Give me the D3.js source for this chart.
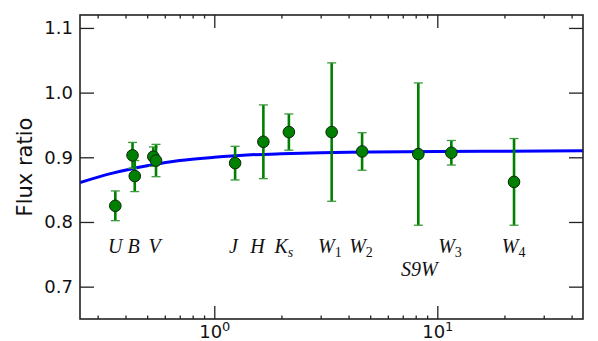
<html>
    <head>
        <script src="https://d3js.org/d3.v7.min.js"></script>
    </head>
    <body style="margin:0">
        <svg id="graph" width="598" height="341"></svg>
        <script>
            // data
            const wavelengths = [0.36, 0.43, 0.44, 0.533, 0.548, 1.24, 1.66, 2.16, 3.36, 4.6, 8.22, 11.56, 22.08];
            const ratios      = [0.825, 0.903, 0.871, 0.901, 0.895, 0.891, 0.924, 0.939, 0.939, 0.909, 0.905, 0.907, 0.862];
            const errors      = [0.023, 0.020, 0.024, 0.015, 0.025, 0.026, 0.057, 0.028, 0.107, 0.029, 0.110, 0.019, 0.067];

            const modelX = [0.25, 0.35, 0.5, 0.7, 1.0, 1.4, 2.0, 3.0, 5.0, 10, 20, 45];
            const modelY = [0.861, 0.8755, 0.887, 0.895, 0.900, 0.9035, 0.9055, 0.907, 0.908, 0.909, 0.9095, 0.910];

            // band labels: name, subscript, x (micron), y (ratio)
            const bandNames = ["U", "B", "V", "J", "H", "K", "W", "W", "S9W", "W", "W"];
            const bandSubs  = ["", "", "", "", "", "s", "1", "2", "", "3", "4"];
            const bandX     = [0.36, 0.435, 0.54, 1.22, 1.56, 2.05, 3.3, 4.55, 8.3, 11.4, 22.0];
            const bandY     = [0.752, 0.752, 0.752, 0.752, 0.752, 0.752, 0.752, 0.752, 0.717, 0.752, 0.752];

            const yTicks = [0.7, 0.8, 0.9, 1.0, 1.1];
            const xTicks = [1, 10];
            const xMinor = [0.3, 0.4, 0.5, 0.6, 0.7, 0.8, 0.9, 2, 3, 4, 5, 6, 7, 8, 9, 20, 30, 40];

            const canvas = d3.select("svg#graph");
            const margin = {top: 15, right: 15, bottom: 22, left: 80};
            const chartWidth = 598 - margin.left - margin.right;
            const chartHeight = 341 - margin.top - margin.bottom;

            const xScale = d3.scaleLog().domain([0.25, 45]).range([0, chartWidth]);
            const yScale = d3.scaleLinear().domain([0.65, 1.12]).range([chartHeight, 0]);

            const chartArea = canvas.append("g")
                .attr("transform", `translate(${margin.left},${margin.top})`);

            chartArea.append("clipPath").attr("id", "clip")
                .append("rect").attr("width", chartWidth).attr("height", chartHeight);

            const plot = chartArea.append("g").attr("clip-path", "url(#clip)");

            // model curve
            const lineGen = d3.line()
                .x((d, i) => xScale(modelX[i]))
                .y(d => yScale(d))
                .curve(d3.curveMonotoneX);
            plot.append("path")
                .datum(modelY)
                .attr("fill", "none")
                .attr("stroke", "#0000ff")
                .attr("stroke-width", 3)
                .attr("d", lineGen);

            // error bars
            const bars = plot.selectAll("g.bar")
                .data(ratios)
                .join("g")
                .attr("class", "bar")
                .attr("transform", (d, i) => `translate(${xScale(wavelengths[i])},0)`);
            bars.append("line")
                .attr("y1", (d, i) => yScale(d - errors[i]))
                .attr("y2", (d, i) => yScale(d + errors[i]))
                .attr("stroke", "#008000")
                .attr("stroke-width", 2.6);
            [-1, 1].forEach(s => {
                bars.append("line")
                    .attr("x1", -4.5).attr("x2", 4.5)
                    .attr("y1", (d, i) => yScale(d + s * errors[i]))
                    .attr("y2", (d, i) => yScale(d + s * errors[i]))
                    .attr("stroke", "#3a9a3a")
                    .attr("stroke-width", 1.3);
            });

            // points
            plot.selectAll("circle.pt")
                .data(ratios)
                .join("circle")
                .attr("class", "pt")
                .attr("cx", (d, i) => xScale(wavelengths[i]))
                .attr("cy", d => yScale(d))
                .attr("r", 5.8)
                .attr("fill", "#008000")
                .attr("stroke", "#0a260a")
                .attr("stroke-width", 1);

            // band labels
            const labels = chartArea.selectAll("text.band")
                .data(bandNames)
                .join("text")
                .attr("class", "band")
                .attr("x", (d, i) => xScale(bandX[i]))
                .attr("y", (d, i) => yScale(bandY[i]))
                .attr("text-anchor", "middle")
                .attr("font-family", "Liberation Serif")
                .attr("font-style", "italic")
                .attr("font-size", 20)
                .attr("fill", "#111");
            labels.append("tspan").text(d => d);
            labels.append("tspan")
                .attr("font-size", 14)
                .attr("font-style", (d, i) => bandSubs[i] === "s" ? "italic" : "normal")
                .attr("dy", 4)
                .text((d, i) => bandSubs[i]);

            // axes
            const tickStyle = g => {
                g.selectAll(".domain").remove();
                g.selectAll("line").attr("stroke", "#222").attr("stroke-width", 1.3);
                g.selectAll("text").attr("font-family", "DejaVu Sans").attr("font-size", 18).attr("fill", "#111");
            };

            chartArea.append("g")
                .call(d3.axisLeft(yScale).tickValues(yTicks).tickSize(-14).tickPadding(7).tickFormat(d3.format(".1f")))
                .call(tickStyle);
            chartArea.append("g")
                .attr("transform", `translate(${chartWidth},0)`)
                .call(d3.axisRight(yScale).tickValues(yTicks).tickSize(-14).tickFormat(""))
                .call(tickStyle);

            chartArea.append("g")
                .attr("transform", `translate(0,${chartHeight})`)
                .call(d3.axisBottom(xScale).tickValues(xTicks).tickSize(-13).tickFormat(""))
                .call(tickStyle)
                .selectAll(".tick")
                .append("text")
                .attr("y", 19)
                .attr("text-anchor", "middle")
                .attr("font-family", "DejaVu Sans")
                .attr("font-size", 18)
                .attr("fill", "#111")
                .each(function(d) {
                    const t = d3.select(this);
                    t.append("tspan").text("10");
                    t.append("tspan").attr("font-size", 13).attr("dy", -7).text(Math.round(Math.log10(d)));
                });
            chartArea.append("g")
                .attr("transform", `translate(0,${chartHeight})`)
                .call(d3.axisBottom(xScale).tickValues(xMinor).tickSize(-3.5).tickFormat(""))
                .call(tickStyle);
            chartArea.append("g")
                .call(d3.axisTop(xScale).tickValues(xTicks).tickSize(-13).tickFormat(""))
                .call(tickStyle);
            chartArea.append("g")
                .call(d3.axisTop(xScale).tickValues(xMinor).tickSize(-3.5).tickFormat(""))
                .call(tickStyle);

            // frame
            chartArea.append("rect")
                .attr("width", chartWidth)
                .attr("height", chartHeight)
                .attr("fill", "none")
                .attr("stroke", "#222")
                .attr("stroke-width", 1.6);

            // y label
            canvas.append("text")
                .attr("transform", `translate(32,167) rotate(-90)`)
                .attr("text-anchor", "middle")
                .attr("font-family", "DejaVu Sans")
                .attr("font-size", 21)
                .attr("fill", "#111")
                .text("Flux ratio");
        </script>
    </body>
</html>
